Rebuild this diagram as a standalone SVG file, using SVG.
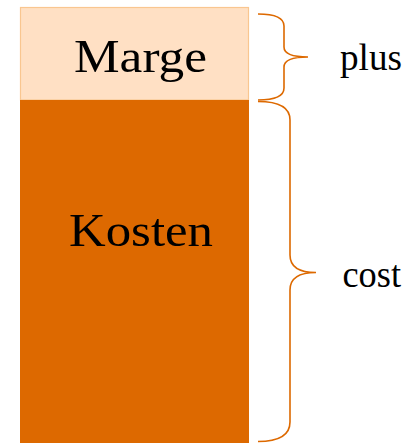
<svg xmlns="http://www.w3.org/2000/svg" width="413" height="443" viewBox="0 0 413 443">
<style>
.lbl{font-family:"Liberation Serif","Times New Roman",serif;fill:#000}
.br{fill:none;stroke:#DD6900;stroke-width:1.6}
</style>
<rect width="413" height="443" fill="#fff"/>
<g id="marge">
<rect x="20.5" y="7.5" width="228" height="92.5" fill="#FFE0C4" stroke="#F9C690" stroke-width="1.2"/>
<text class="lbl" x="74" y="72" font-size="46" textLength="133" lengthAdjust="spacingAndGlyphs">Marge</text>
</g>
<g id="kosten">
<rect x="20" y="100" width="229" height="343" fill="#DD6900"/>
<text class="lbl" x="69" y="245.5" font-size="47" textLength="144" lengthAdjust="spacingAndGlyphs">Kosten</text>
</g>
<g id="connectors">
<path class="br" d="M258,14 Q284,14 284,26 L284,47 Q284,57 308,57 Q284,57 284,67 L284,88 Q284,100 258,100"/>
<path class="br" d="M258,101.5 Q290,101.5 290,120 L290,255 Q290,272.5 316,272.5 Q290,272.5 290,290 L290,422 Q290,441.5 258,441.5"/>
</g>
<g id="plus"><text class="lbl" x="340" y="69.5" font-size="37" textLength="62" lengthAdjust="spacingAndGlyphs">plus</text></g>
<g id="cost"><text class="lbl" x="342.5" y="286.5" font-size="37" textLength="58.5" lengthAdjust="spacingAndGlyphs">cost</text></g>
</svg>
